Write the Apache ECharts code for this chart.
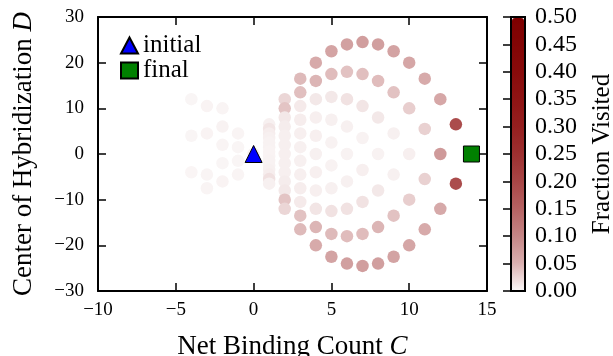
<!DOCTYPE html>
<html>
<head>
<meta charset="utf-8">
<script src="https://cdn.jsdelivr.net/npm/echarts@6/dist/echarts.min.js"></script>
<style>
  html, body { margin: 0; padding: 0; background: #fff; }
  #chart { width: 613px; height: 356px; }
</style>
</head>
<body>
<div id="chart"></div>
<script>
// visited states: [C, D, fraction visited], one line per column C
const visited = [
  [-4, 12, 0.001], [-4, 4, 0.0008], [-4, -4, 0.0006],
  [-3, 10.5, 0.0018], [-3, 4.5, 0.0018], [-3, -4.5, 0.0012], [-3, -7.5, 0.0015],
  [-2, 10, 0.0015], [-2, 6, 0.0025], [-2, 2, 0.0012], [-2, -2, 0.001], [-2, -6, 0.002],
  [-1, 4.5, 0.0012], [-1, 1.5, 0.001], [-1, -1.5, 0.001], [-1, -4.5, 0.0012],
  [0, 0, 0.004],
  [1, 6.5, 0.004], [1, 5.5, 0.012], [1, 4.5, 0.006], [1, 3.5, 0.004], [1, 2.5, 0.003], [1, 1.5, 0.003], [1, 0.5, 0.002],
  [1, -0.5, 0.002], [1, -1.5, 0.003], [1, -2.5, 0.003], [1, -3.5, 0.004], [1, -4.5, 0.006], [1, -5.5, 0.015], [1, -6.5, 0.004],
  [2, 12, 0.022], [2, 10, 0.035], [2, 8, 0.01], [2, 6, 0.007], [2, 4, 0.005], [2, 2, 0.005], [2, 0, 0.005],
  [2, -2, 0.005], [2, -4, 0.005], [2, -6, 0.007], [2, -8, 0.01], [2, -10, 0.035], [2, -12, 0.022],
  [3, 16.5, 0.042], [3, 13.5, 0.038], [3, 10.5, 0.008], [3, 7.5, 0.006], [3, 4.5, 0.005], [3, 1.5, 0.004],
  [3, -1.5, 0.004], [3, -4.5, 0.005], [3, -7.5, 0.006], [3, -10.5, 0.008], [3, -13.5, 0.036], [3, -16.5, 0.042],
  [4, 20, 0.055], [4, 16, 0.045], [4, 12, 0.01], [4, 8, 0.005], [4, 4, 0.005], [4, 0, 0.004],
  [4, -4, 0.005], [4, -8, 0.005], [4, -12, 0.012], [4, -16, 0.045], [4, -20, 0.055],
  [5, 22.5, 0.062], [5, 17.5, 0.04], [5, 12.5, 0.01], [5, 7.5, 0.004], [5, 2.5, 0.003],
  [5, -2.5, 0.003], [5, -7.5, 0.004], [5, -12.5, 0.014], [5, -17.5, 0.042], [5, -22.5, 0.064],
  [6, 24, 0.066], [6, 18, 0.036], [6, 12, 0.014], [6, 6, 0.004], [6, 0, 0.003],
  [6, -6, 0.004], [6, -12, 0.014], [6, -18, 0.04], [6, -24, 0.068],
  [7, 24.5, 0.07], [7, 17.5, 0.038], [7, 10.5, 0.012], [7, 3.5, 0.003],
  [7, -3.5, 0.005], [7, -10.5, 0.014], [7, -17.5, 0.04], [7, -24.5, 0.07],
  [8, 24, 0.068], [8, 16, 0.04], [8, 8, 0.01], [8, 0, 0.003], [8, -8, 0.01], [8, -16, 0.045], [8, -24, 0.068],
  [9, 22.5, 0.064], [9, 13.5, 0.036], [9, 4.5, 0.004], [9, -4.5, 0.004], [9, -13.5, 0.036], [9, -22.5, 0.064],
  [10, 20, 0.06], [10, 10, 0.028], [10, 0, 0.005], [10, -10, 0.028], [10, -20, 0.06],
  [11, 16.5, 0.055], [11, 5.5, 0.026], [11, -5.5, 0.026], [11, -16.5, 0.055],
  [12, 12, 0.058], [12, 0, 0.075], [12, -12, 0.056],
  [13, 6.5, 0.19], [13, -6.5, 0.19],
  [14, 0, 0.2]
];
const initialPoint = [[0, 0]];
const finalPoint = [[14, 0]];

const xRange = [-10, 15];
const yRange = [-30, 30];
const cbarRange = [0, 0.5];

// white -> maroon, sampled from the colour bar at 0.00, 0.05, ... 0.50
const cmap = ['#faf6f6', '#d9aeae', '#c48585', '#b56262', '#a84646', '#9d3030',
  '#951f1f', '#8e1414', '#880b0b', '#830505', '#7d0000'];

const font = "'Liberation Serif', 'DejaVu Serif', serif";
const minus = v => String(v).replace('-', '\u2212');

const chart = echarts.init(document.getElementById('chart'));

const frameAxis = (pos, extra) => Object.assign({
  type: 'value',
  position: pos,
  z: 10,
  axisLine: { show: true, onZero: false, lineStyle: { color: '#000', width: 2 } },
  axisTick: { show: true, inside: true, length: 8, lineStyle: { color: '#000', width: 1.5 } },
  axisLabel: { show: false },
  splitLine: { show: false }
}, extra);

const tickLabel = { show: true, color: '#000', fontFamily: font, fontSize: 19, formatter: minus };
const nameRich = {
  t: { fontFamily: font, fontSize: 27, color: '#000' },
  i: { fontFamily: font, fontSize: 27, color: '#000', fontStyle: 'italic' }
};

chart.setOption({
  animation: false,
  backgroundColor: '#fff',
  grid: [
    { left: 98, right: 126, top: 17, bottom: 65, outerBoundsMode: 'none' },
    // colour bar frame
    {
      left: 511, width: 14, top: 17, height: 274, outerBoundsMode: 'none',
      show: true, borderColor: '#000', borderWidth: 2, backgroundColor: 'transparent', z: 8
    }
  ],
  legend: {
    orient: 'vertical',
    left: 115,
    top: 28,
    itemWidth: 17,
    itemHeight: 16,
    itemGap: 0,
    data: ['initial', 'final'],
    textStyle: { fontFamily: font, fontSize: 25, color: '#000', lineHeight: 24 }
  },
  xAxis: [
    frameAxis('bottom', {
      min: xRange[0], max: xRange[1], interval: 5,
      axisLabel: Object.assign({ margin: 10 }, tickLabel),
      name: '{t|Net Binding Count }{i|C}',
      nameLocation: 'middle',
      nameGap: 42,
      nameTextStyle: { rich: nameRich }
    }),
    frameAxis('top', { min: xRange[0], max: xRange[1], interval: 5 }),
    { type: 'value', gridIndex: 1, min: 0, max: 1, show: false }
  ],
  yAxis: [
    frameAxis('left', {
      min: yRange[0], max: yRange[1], interval: 10,
      axisLabel: Object.assign({ margin: 14 }, tickLabel),
      name: '{t|Center of Hybridization }{i|D}',
      nameLocation: 'middle',
      nameGap: 61,
      nameTextStyle: { rich: nameRich }
    }),
    frameAxis('right', { min: yRange[0], max: yRange[1], interval: 10 }),
    {
      type: 'value',
      gridIndex: 1,
      position: 'right',
      min: cbarRange[0], max: cbarRange[1], interval: 0.05,
      z: 10,
      axisLine: { show: false },
      axisTick: { show: true, inside: true, length: 8, lineStyle: { color: '#000', width: 1.5 } },
      axisLabel: { color: '#000', fontFamily: font, fontSize: 24, margin: 10, formatter: v => v.toFixed(2) },
      splitLine: { show: false },
      name: 'Fraction Visited',
      nameLocation: 'middle',
      nameRotate: 90,
      nameGap: 65,
      nameTextStyle: { fontFamily: font, fontSize: 25, color: '#000' }
    }
  ],
  visualMap: {
    show: true,
    type: 'continuous',
    seriesIndex: 0,
    dimension: 2,
    min: cbarRange[0],
    max: cbarRange[1],
    calculable: false,
    hoverLink: false,
    text: null,
    padding: 0,
    left: 512,
    top: 18,
    itemWidth: 12,
    itemHeight: 272,
    z: 4,
    inRange: { color: cmap }
  },
  series: [
    {
      name: 'visited',
      type: 'scatter',
      data: visited,
      symbolSize: 12.5,
      itemStyle: { opacity: 1 },
      z: 2
    },
    {
      name: 'initial',
      type: 'scatter',
      data: initialPoint,
      symbol: 'triangle',
      symbolSize: 17,
      itemStyle: { color: '#0000ff', borderColor: '#000', borderWidth: 1, opacity: 1 },
      z: 5
    },
    {
      name: 'final',
      type: 'scatter',
      data: finalPoint,
      symbol: 'rect',
      symbolSize: 16,
      itemStyle: { color: '#008000', borderColor: '#000', borderWidth: 1, opacity: 1 },
      z: 5
    }
  ]
});
</script>
</body>
</html>
